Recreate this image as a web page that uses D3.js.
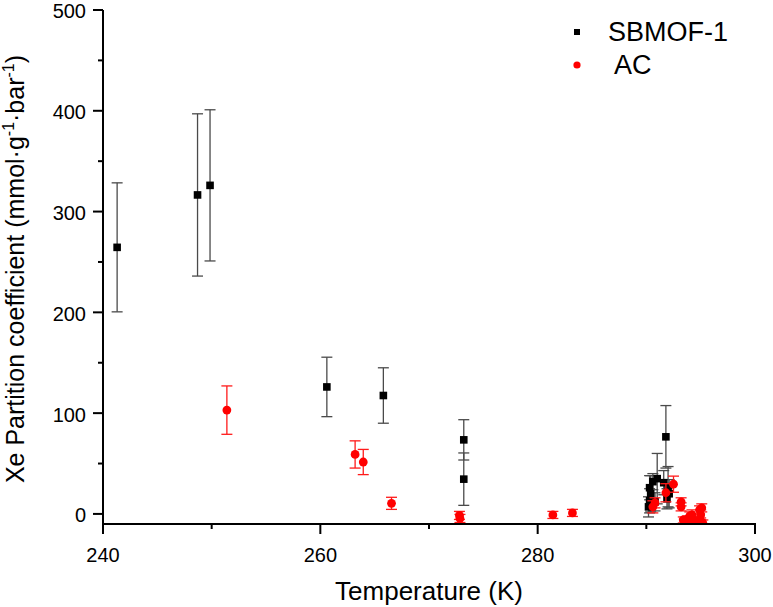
<!DOCTYPE html>
<html><head><meta charset="utf-8">
<script src="https://cdn.jsdelivr.net/npm/d3@7"></script>
<style>body{margin:0;background:#fff}svg{display:block}text{font-family:"Liberation Sans",Arial,sans-serif}</style>
</head><body>
<script>
// SBMOF-1 series
const sbmofT   = [241.3, 248.7, 249.85, 260.6, 265.8, 273.2, 273.2, 290.2, 290.3, 290.4, 290.3, 290.6, 290.8, 291.0, 291.8, 291.6, 292.0, 291.9, 292.1];
const sbmofK   = [264.5, 316.5, 326.0, 126.0, 117.5, 73.5, 34.5, 7, 13, 20, 26, 32, 12, 35, 76.5, 31, 27, 15, 20];
const sbmofErr = [64, 80.5, 75, 29.5, 27.5, 20, 26, 10, 12, 18, 12, 8, 9, 25, 31, 12, 20, 10, 14];
// AC series
const acT   = [251.4, 263.2, 263.95, 266.55, 272.8, 272.85, 281.4, 283.2, 290.6, 290.8, 291.8, 292.5, 293.2, 293.2, 293.4, 293.5, 293.7, 293.8, 294.0, 294.2, 294.3, 294.4, 294.6, 294.8, 294.9, 295.0, 295.0, 295.1, 295.2];
const acK   = [103, 59, 51.5, 10.5, -1.5, -4.5, -1, 1, 7, 11, 21, 29.5, 12, 7, -6, -8, -9, -5, -2, -1, -9, -6, -8, -9, 4, -1, -7, 6, -9];
const acErr = [24, 13.5, 12.5, 6, 4, 4, 3.5, 3.5, 6, 5, 9, 8, 4, 4, 3, 3, 3, 3, 4, 5, 3, 3, 3, 3, 4, 5, 3, 4, 3];
// axes
const xTicks = [240, 260, 280, 300];
const xMinor = [250, 270, 290];
const yTicks = [0, 100, 200, 300, 400, 500];
const yMinor = [50, 150, 250, 350, 450];
const legendLabels = ["SBMOF-1", " AC"];

const W = 773, H = 607;
const x = d3.scaleLinear().domain([240, 300]).range([103, 755]);
const y = d3.scaleLinear().domain([-10, 500]).range([524, 10]);

const svg = d3.select("body").append("svg").attr("width", W).attr("height", H);

svg.append("clipPath").attr("id", "clip").append("rect")
  .attr("x", 103).attr("y", 0).attr("width", 670).attr("height", 524);

const plot = svg.append("g").attr("clip-path", "url(#clip)");

function drawSeries(T, K, E, color, errColor, shape) {
  const data = T.map((t, i) => ({t, k: K[i], e: E[i]}));
  const g = plot.append("g");
  const cap = 5.5;
  data.forEach(d => {
    const px = x(d.t), y1 = y(d.k + d.e), y0 = y(d.k - d.e);
    g.append("line").attr("x1", px).attr("x2", px).attr("y1", y1).attr("y2", y0)
      .attr("stroke", errColor).attr("stroke-width", 1.3);
    g.append("line").attr("x1", px - cap).attr("x2", px + cap).attr("y1", y1).attr("y2", y1)
      .attr("stroke", errColor).attr("stroke-width", 1.3);
    g.append("line").attr("x1", px - cap).attr("x2", px + cap).attr("y1", y0).attr("y2", y0)
      .attr("stroke", errColor).attr("stroke-width", 1.3);
  });
  if (shape === "square") {
    g.selectAll("rect.m").data(data).join("rect").attr("class", "m")
      .attr("x", d => x(d.t) - 3.8).attr("y", d => y(d.k) - 3.8)
      .attr("width", 7.6).attr("height", 7.6).attr("fill", color);
  } else {
    g.selectAll("circle.m").data(data).join("circle").attr("class", "m")
      .attr("cx", d => x(d.t)).attr("cy", d => y(d.k)).attr("r", 4.4).attr("fill", color);
  }
}
drawSeries(sbmofT, sbmofK, sbmofErr, "#000", "#4a4a4a", "square");
drawSeries(acT, acK, acErr, "#ff0000", "#ff1a1a", "circle");

// axes
const ax = svg.append("g");
ax.append("line").attr("x1", 103).attr("x2", 103).attr("y1", 10).attr("y2", 525)
  .attr("stroke", "#000").attr("stroke-width", 2);
ax.append("line").attr("x1", 102).attr("x2", 756).attr("y1", 524).attr("y2", 524)
  .attr("stroke", "#000").attr("stroke-width", 2);

yTicks.forEach(v => {
  ax.append("line").attr("x1", 93).attr("x2", 103).attr("y1", y(v)).attr("y2", y(v))
    .attr("stroke", "#000").attr("stroke-width", 2);
  ax.append("text").attr("x", 86).attr("y", y(v)).attr("dy", "0.42em")
    .attr("text-anchor", "end").attr("font-size", 20).text(v);
});
yMinor.forEach(v => {
  ax.append("line").attr("x1", 98).attr("x2", 103).attr("y1", y(v)).attr("y2", y(v))
    .attr("stroke", "#000").attr("stroke-width", 2);
});
xTicks.forEach(v => {
  ax.append("line").attr("x1", x(v)).attr("x2", x(v)).attr("y1", 524).attr("y2", 534)
    .attr("stroke", "#000").attr("stroke-width", 2);
  ax.append("text").attr("x", x(v)).attr("y", 562)
    .attr("text-anchor", "middle").attr("font-size", 20).text(v);
});
xMinor.forEach(v => {
  ax.append("line").attr("x1", x(v)).attr("x2", x(v)).attr("y1", 524).attr("y2", 529)
    .attr("stroke", "#000").attr("stroke-width", 2);
});

// axis titles
svg.append("text").attr("x", 429).attr("y", 600).attr("text-anchor", "middle")
  .attr("font-size", 26).text("Temperature (K)");

const yt = svg.append("text").attr("transform", "translate(24,269) rotate(-90)")
  .attr("text-anchor", "middle").attr("font-size", 25);
yt.append("tspan").text("Xe Partition coefficient (mmol·g");
yt.append("tspan").attr("font-size", 16).attr("dy", -10).text("-1");
yt.append("tspan").attr("dy", 10).text("·bar");
yt.append("tspan").attr("font-size", 16).attr("dy", -10).text("-1");
yt.append("tspan").attr("dy", 10).text(")");

// legend
const lg = svg.append("g");
lg.append("rect").attr("x", 574).attr("y", 29).attr("width", 6).attr("height", 6).attr("fill", "#000");
lg.append("text").attr("x", 608).attr("y", 41).attr("font-size", 27).text(legendLabels[0]);
lg.append("circle").attr("cx", 577).attr("cy", 65).attr("r", 3.6).attr("fill", "#ff0000");
lg.append("text").attr("x", 608).attr("y", 74).attr("font-size", 27)
  .style("white-space", "pre").text(legendLabels[1]);
</script>
</body></html>
